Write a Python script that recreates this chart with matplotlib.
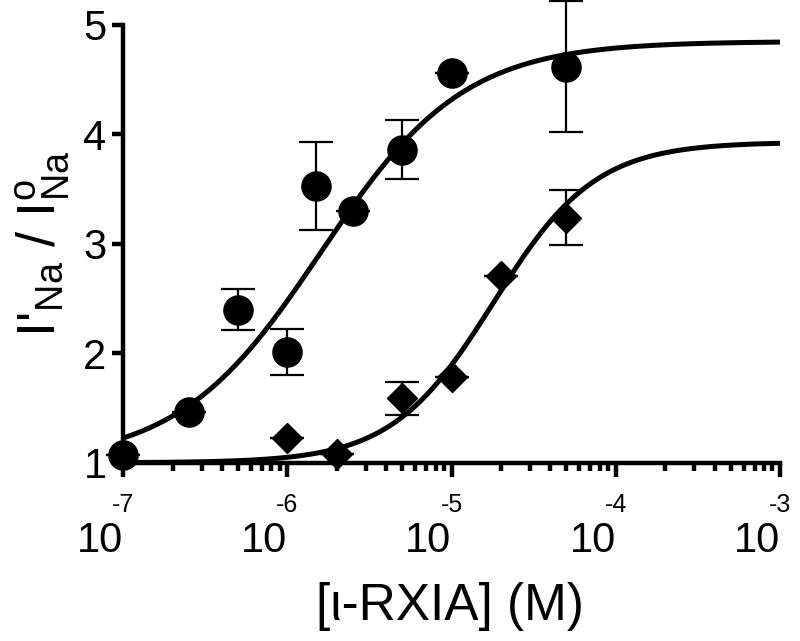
import numpy as np
import matplotlib
matplotlib.use("Agg")
import matplotlib.pyplot as plt

plt.rcParams['font.family'] = ['Liberation Sans', 'DejaVu Sans']
plt.rcParams['mathtext.default'] = 'regular'

# circles: first toxin series
circ_x = [1e-7, 2.5e-7, 5e-7, 1e-6, 1.5e-6, 2.5e-6, 5e-6, 1e-5, 5e-5]
circ_y = [1.07, 1.46, 2.40, 2.01, 3.53, 3.30, 3.86, 4.56, 4.62]
circ_err = [0.0, 0.0, 0.19, 0.21, 0.40, 0.0, 0.27, 0.0, 0.60]

# diamonds: second series
diam_x = [1e-6, 2e-6, 5e-6, 1e-5, 2e-5, 5e-5]
diam_y = [1.23, 1.08, 1.59, 1.78, 2.71, 3.24]
diam_err = [0.0, 0.0, 0.15, 0.0, 0.0, 0.25]

# Hill fit parameters (bottom, top, EC50, slope)
circ_fit = (1.0, 4.85, 1.6e-6, 1.0)
diam_fit = (1.0, 3.93, 1.8e-5, 1.4)

decades = [-7, -6, -5, -4, -3]


def hill(x, bottom, top, ec50, n):
    return bottom + (top - bottom) / (1 + (ec50 / x) ** n)


fig = plt.figure(figsize=(8, 6.41), dpi=100)
ax = fig.add_axes([0.154, 0.278, 0.821, 0.683])

xs = np.logspace(-7, -3, 400)
ax.plot(xs, hill(xs, *circ_fit), color='black', lw=3.6, solid_capstyle='butt')
ax.plot(xs, hill(xs, *diam_fit), color='black', lw=3.6, solid_capstyle='butt')

ax.errorbar(circ_x, circ_y, yerr=circ_err, fmt='o', color='black', ms=21,
            elinewidth=1.6, capsize=12, capthick=1.6, clip_on=False, zorder=5)
ax.errorbar(diam_x, diam_y, yerr=diam_err, fmt='D', color='black', ms=15.5,
            elinewidth=1.6, capsize=12, capthick=1.6, clip_on=False, zorder=5)

ax.set_xscale('log')
ax.set_xlim(1e-7, 1e-3)
ax.set_ylim(1, 5)
ax.set_yticks([1, 2, 3, 4, 5])

for s in ['top', 'right']:
    ax.spines[s].set_visible(False)
for s in ['left', 'bottom']:
    ax.spines[s].set_linewidth(3.2)

ax.tick_params(axis='y', direction='out', length=8, width=3.2, labelsize=30, pad=4)
ax.tick_params(axis='x', which='major', direction='out', length=10, width=3.2, labelbottom=False)
ax.tick_params(axis='x', which='minor', direction='out', length=6, width=3.2)
ax.xaxis.set_minor_locator(matplotlib.ticker.LogLocator(base=10, subs=np.arange(2, 10)))

# GraphPad-style decade labels: "10" left of the tick, exponent above it
tr = ax.get_xaxis_transform()
for d in decades:
    ax.text(10.0 ** d, -0.178, "10", transform=tr, ha='right', va='center', fontsize=30)
    ax.text(10.0 ** d, -0.097, str(d), transform=tr, ha='center', va='center', fontsize=18)

ax.set_xlabel("[\u03b9-RXIA] (M)", fontsize=37)
ax.xaxis.set_label_coords(0.497, -0.272)
ax.set_ylabel(r"I$'_{Na}$ / I$^{o}_{Na}$", fontsize=39, labelpad=8)

fig.savefig("out.png", dpi=100)
